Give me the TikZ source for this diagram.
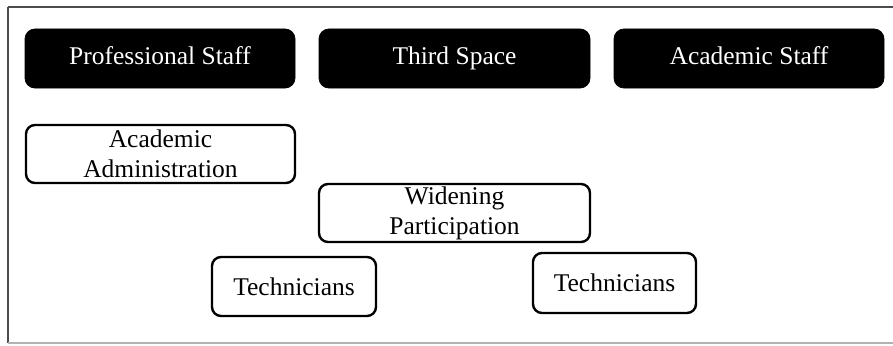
\documentclass[tikz,border=0pt]{standalone}
\usepackage{fontspec}
\setmainfont{Liberation Serif}
\newfontfamily\tnr{Liberation Serif}
\begin{document}
\begin{tikzpicture}[x=1pt,y=-1pt,
  headbox/.style={draw=black,fill=black,text=white,rounded corners=10pt,inner sep=0pt,
    minimum width=#1,minimum height=59pt,line width=0.8pt,text height=17pt,text depth=5pt,
    font=\tnr\fontsize{25.5}{30}\selectfont},
  itembox/.style={draw=black,fill=white,text=black,rounded corners=9pt,inner sep=0pt,
    minimum width=#1,minimum height=58pt,line width=2.4pt,align=center,
    font=\tnr\fontsize{25.5}{30}\selectfont}]
\useasboundingbox (0,0) rectangle (893,345);
\coordinate (tl) at (8,7);
\coordinate (tr) at (893,7);
\coordinate (bl) at (8,343);
\coordinate (br) at (893,343);
\draw[line width=1.5pt,draw=black!70] (tl) -- (tr);
\draw[line width=2pt,draw=black!70] (tl) -- (bl);
\draw[line width=1.5pt,draw=black!30] (bl) -- (br);
\node[headbox=270pt] (prof) at (160,58.5) {Professional Staff};
\node[headbox=271pt] (third) at (454.5,58.5) {Third Space};
\node[headbox=270pt] (acad) at (749,58.5) {Academic Staff};
\node[itembox=269pt] (admin) at (160.5,154) {Academic\\Administration};
\node[itembox=271pt] (widen) at (454.5,213) {Widening\\Participation};
\node[itembox=164pt,minimum height=59pt] (techl) at (294,286.5) {Technicians};
\node[itembox=163pt,minimum height=60pt] (techr) at (614.5,283) {Technicians};
\end{tikzpicture}
\end{document}
